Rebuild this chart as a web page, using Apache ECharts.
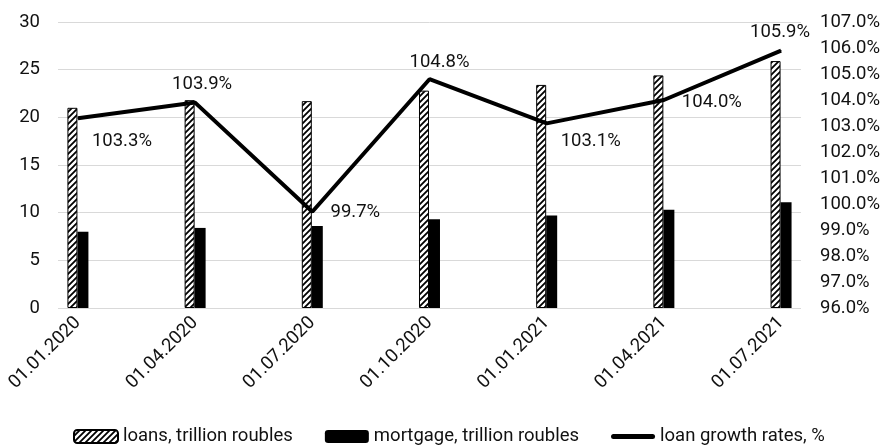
<!DOCTYPE html>
<html>
<head>
<meta charset="utf-8">
<script src="https://cdn.jsdelivr.net/npm/echarts@6/dist/echarts.min.js"></script>
<style>
  html, body { margin: 0; padding: 0; background: #fff; }
  #chart { width: 883px; height: 445px; }
</style>
</head>
<body>
<div id="chart"></div>
<script>
// Quarterly reporting dates
const dates = ['01.01.2020', '01.04.2020', '01.07.2020', '01.10.2020', '01.01.2021', '01.04.2021', '01.07.2021'];
// Loans outstanding, trillion roubles
const loans = [21.0, 21.8, 21.7, 22.8, 23.4, 24.4, 25.9];
// Mortgage outstanding, trillion roubles
const mortgage = [8.0, 8.4, 8.6, 9.3, 9.7, 10.3, 11.1];
// Loan growth rate, %
const growth = [103.3, 103.9, 99.7, 104.8, 103.1, 104.0, 105.9];

// Right-axis tick range (%)
const rateMin = 96, rateMax = 107;

// Label placement for each growth-rate point, in pixels from the point
const labelOffsets = [[44, 23], [7, -18], [43, 1], [10, -17], [44, 18], [48, 2], [-1, -18]];

const FONT = 'Roboto, "Noto Sans", sans-serif';
const TEXT = '#111';
const FS = 18.5;

// Diagonal hatch fill for the loans bars
function hatchPattern() {
  const c = document.createElement('canvas');
  c.width = 6; c.height = 6;
  const g = c.getContext('2d');
  g.fillStyle = '#fff';
  g.fillRect(0, 0, 6, 6);
  g.strokeStyle = '#000';
  g.lineWidth = 1.8;
  g.beginPath();
  g.moveTo(-1, 7); g.lineTo(7, -1);
  g.moveTo(-4, 4); g.lineTo(4, -4);
  g.moveTo(2, 10); g.lineTo(10, 2);
  g.stroke();
  return c;
}

const chart = echarts.init(document.getElementById('chart'), null, { renderer: 'canvas' });

const catIdx = dates.map((_, i) => i);

chart.setOption({
  animation: false,
  textStyle: { fontFamily: FONT, color: TEXT },
  grid: { left: 58, right: 79, top: 22, bottom: 137, containLabel: false },
  legend: {
    left: 73,
    top: 427,
    padding: 0,
    itemWidth: 44,
    itemHeight: 13,
    itemGap: 32,
    textStyle: { fontFamily: FONT, fontSize: FS, color: TEXT },
    data: [
      { name: 'loans, trillion roubles' },
      { name: 'mortgage, trillion roubles' },
      {
        name: 'loan growth rates, %',
        icon: 'path://M2.5,0H41.5A2.5,2.5 0 0 1 41.5,5H2.5A2.5,2.5 0 0 1 2.5,0Z',
        itemStyle: { color: '#000' }
      }
    ]
  },
  xAxis: {
    type: 'value',
    min: -0.17,
    max: 6.17,
    axisLine: { show: false },
    axisTick: { show: false },
    splitLine: { show: false },
    axisLabel: {
      customValues: catIdx,
      formatter: v => dates[Math.round(v)],
      rotate: 45,
      margin: 12,
      fontSize: FS,
      fontFamily: FONT,
      color: TEXT
    }
  },
  yAxis: [
    {
      type: 'value',
      min: 0,
      max: 30,
      interval: 5,
      axisLine: { show: false },
      axisTick: { show: false },
      splitLine: { lineStyle: { color: '#d9d9d9', width: 1 } },
      axisLabel: { margin: 18, fontSize: FS, fontFamily: FONT, color: TEXT }
    },
    {
      type: 'value',
      min: rateMin,
      max: rateMax,
      interval: 1,
      position: 'right',
      axisLine: { show: false },
      axisTick: { show: false },
      splitLine: { show: false },
      axisLabel: {
        margin: 19,
        fontSize: FS,
        fontFamily: FONT,
        color: TEXT,
        formatter: v => v.toFixed(1) + '%'
      }
    }
  ],
  series: [
    {
      name: 'loans, trillion roubles',
      type: 'bar',
      barWidth: 10,
      barGap: '0%',
      itemStyle: {
        color: { image: hatchPattern(), repeat: 'repeat' },
        borderColor: '#000',
        borderWidth: 1
      },
      data: loans.map((v, i) => [i, v])
    },
    {
      name: 'mortgage, trillion roubles',
      type: 'bar',
      barWidth: 11,
      barGap: '0%',
      itemStyle: { color: '#000' },
      data: mortgage.map((v, i) => [i, v])
    },
    {
      name: 'loan growth rates, %',
      type: 'line',
      yAxisIndex: 1,
      symbol: 'circle',
      symbolSize: 1,
      itemStyle: { color: '#000' },
      lineStyle: { color: '#000', width: 4 },
      label: {
        show: true,
        position: 'inside',
        fontSize: FS,
        fontFamily: FONT,
        color: TEXT,
        formatter: p => p.value[1].toFixed(1) + '%'
      },
      z: 5,
      data: growth.map((v, i) => ({ value: [i, v], label: { offset: labelOffsets[i] } }))
    }
  ]
});
</script>
</body>
</html>
